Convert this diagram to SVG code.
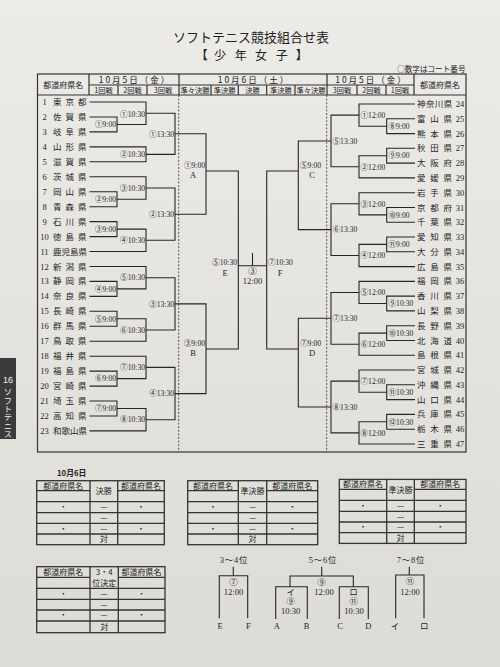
<svg xmlns="http://www.w3.org/2000/svg" width="500" height="667" viewBox="0 0 500 667">
<defs>
<linearGradient id="bg" x1="0" y1="0" x2="0" y2="1">
<stop offset="0" stop-color="#ecebe7"/>
<stop offset="1" stop-color="#dddbd6"/>
</linearGradient>
</defs>
<style>
.ln{fill:none;stroke:#262626;stroke-width:1.1}
.bx{fill:none;stroke:#333;stroke-width:1.2}
.tb{fill:none;stroke:#333;stroke-width:1.3}
.dash{fill:none;stroke:#444;stroke-width:0.9;stroke-dasharray:2 1.6}
.nm{font-family:"Noto Sans CJK JP",sans-serif;font-size:8.5px;fill:#1e1e1e}
.s3{letter-spacing:4px}
.r3{letter-spacing:4.7px}
.r4{letter-spacing:0.4px}
.num{font-family:"Liberation Serif","Noto Sans CJK JP",serif;font-size:8.5px;fill:#1e1e1e;text-anchor:middle}
.lb{font-family:"Liberation Serif","Noto Sans CJK JP",serif;font-size:7.6px;fill:#1e1e1e}
.lt{font-family:"Liberation Serif","Noto Sans CJK JP",serif;font-size:8.5px;fill:#1e1e1e;text-anchor:middle}
.e{text-anchor:end}
.m{text-anchor:middle}
.hd{font-family:"Noto Sans CJK JP",sans-serif;font-size:7.2px;fill:#222;text-anchor:middle}
.hn{font-family:"Noto Sans CJK JP",sans-serif;font-size:8px;fill:#222;text-anchor:middle}
.hdate{font-family:"Noto Sans CJK JP",sans-serif;font-size:8.5px;fill:#222;text-anchor:middle;letter-spacing:2px}
.tt{font-family:"Noto Sans CJK JP",sans-serif;font-size:8px;fill:#222;text-anchor:middle}
</style>
<rect x="0" y="0" width="500" height="667" fill="url(#bg)"/>

<!-- title -->
<g id="title">
<text x="251" y="42" font-family="Noto Sans CJK JP, sans-serif" font-size="13" fill="#222" text-anchor="middle">ソフトテニス競技組合せ表</text>
<text x="201.7 220 240.7 261 281.7 301.7" y="59.5" font-family="Noto Sans CJK JP, sans-serif" font-size="12" fill="#222" text-anchor="middle">【少年女子】</text>
<text x="465.5" y="71.5" font-family="Noto Sans CJK JP, sans-serif" font-size="7.6" fill="#222" text-anchor="end">○数字はコート番号</text>
</g>

<!-- side tab -->
<g id="side-tab">
<rect x="0" y="358" width="16" height="81" fill="#3b3b3b"/>
<text x="8" y="383" font-family="Liberation Sans, sans-serif" font-size="9" fill="#f2f2f2" text-anchor="middle">16</text>
<text x="8" y="388" font-family="Noto Sans CJK JP, sans-serif" font-size="8.3" fill="#f2f2f2" style="writing-mode:tb">ソフトテニス</text>
</g>

<!-- main table frame & header -->
<g id="frame">
<rect class="bx" x="37.5" y="74" width="428.5" height="378"/>
<path class="bx" d="M37.5 95 H466 M89 85 H414 M89 74 V95 M179 74 V95 M327 74 V95 M414 74 V95 M118 85 V95 M147 85 V95 M211 85 V95 M238.3 85 V95 M266.7 85 V95 M295 85 V95 M357 85 V95 M386 85 V95"/>
<path class="dash" d="M178.7 95 V452 M326.7 95 V452"/>
<text class="hn" x="63.3" y="87.5">都道府県名</text>
<text class="hn" x="440" y="87.5">都道府県名</text>
<text class="hdate" x="135" y="83">10月5日（金）</text>
<text class="hdate" x="254" y="83">10月6日（土）</text>
<text class="hdate" x="371.5" y="83">10月5日（金）</text>
<text class="hd" x="103.5" y="93">1回戦</text>
<text class="hd" x="132.5" y="93">2回戦</text>
<text class="hd" x="163" y="93">3回戦</text>
<text class="hd" x="195" y="93">準々決勝</text>
<text class="hd" x="224.6" y="93">準決勝</text>
<text class="hd" x="252.5" y="93">決勝</text>
<text class="hd" x="280.8" y="93">準決勝</text>
<text class="hd" x="311" y="93">準々決勝</text>
<text class="hd" x="342" y="93">3回戦</text>
<text class="hd" x="371.5" y="93">2回戦</text>
<text class="hd" x="400" y="93">1回戦</text>
</g>

<!-- connectors -->
<g id="connectors">
<path class="ln" d="M89.5 102 H146 V124.5 H117 M89.5 117 H117 V131.9 H89.5 M89.5 146.9 H146 V161.8 H89.5 M146 113.2 H175 V154.4 H146"/>
<path class="ln" d="M89.5 176.8 H146 V199.2 H117 M89.5 191.7 H117 V206.7 H89.5 M89.5 221.6 H117 V236.6 H89.5 M117 229.1 H146 V251.5 H89.5 M146 188 H175 V240.3 H146"/>
<path class="ln" d="M89.5 266.5 H146 V288.9 H117 M89.5 281.4 H117 V296.4 H89.5 M89.5 311.3 H117 V326.3 H89.5 M117 318.8 H146 V341.2 H89.5 M146 277.7 H175 V330 H146"/>
<path class="ln" d="M89.5 356.2 H146 V378.6 H117 M89.5 371.1 H117 V386.1 H89.5 M89.5 401 H117 V416 H89.5 M117 408.5 H146 V430.9 H89.5 M146 367.4 H175 V419.7 H146"/>
<path class="ln" d="M175 133.8 H206 V214.2 H175 M175 303.9 H206 V393.6 H175 M206 171 H238.3 V349 H206"/>
<path class="ln" d="M415 104 H359 V126.2 H386.7 M415 118.8 H386.7 V133.6 H415 M415 148.3 H386.7 V163.1 H415 M386.7 155.7 H359 V177.9 H415 M359 115.1 H331 V166.8 H359"/>
<path class="ln" d="M415 192.7 H359 V214.9 H386.7 M415 207.5 H386.7 V222.2 H415 M415 237 H386.7 V251.8 H415 M386.7 244.4 H359 V266.6 H415 M359 203.8 H331 V255.5 H359"/>
<path class="ln" d="M415 281.4 H359 V303.5 H386.7 M415 296.1 H386.7 V310.9 H415 M415 325.7 H386.7 V340.5 H415 M386.7 333.1 H359 V355.3 H415 M359 292.5 H331 V344.2 H359"/>
<path class="ln" d="M415 370 H359 V392.2 H386.7 M415 384.8 H386.7 V399.6 H415 M415 414.4 H386.7 V429.2 H415 M386.7 421.8 H359 V444 H415 M359 381.1 H331 V432.9 H359"/>
<path class="ln" d="M331 141 H298.3 V229.6 H331 M331 318.3 H298.3 V407 H331 M298.3 171 H266.7 V349 H298.3"/>
<path class="ln" d="M238.3 265.7 H266.7 M252.5 253 V265.7"/>
<!-- placement brackets -->
<path class="ln" d="M233.3 566.7 V575.7 M219.3 618.3 V575.7 H247.7 V618.3"/>
<path class="ln" d="M321.7 566.7 V576 M290 586.7 V576 H353.3 V586.7 M275.7 619 V586.7 H307.3 V619 M339.3 619 V586.7 H368.3 V619"/>
<path class="ln" d="M409.3 566.7 V575 M395.7 618.3 V575 H424 V618.3"/>
</g>

<!-- left teams -->
<g id="t1"><text class="num" x="44.5" y="105">1</text><text class="nm s3" x="53" y="105">東京都</text></g>
<g id="t2"><text class="num" x="44.5" y="120">2</text><text class="nm s3" x="53" y="120">佐賀県</text></g>
<g id="t3"><text class="num" x="44.5" y="134.9">3</text><text class="nm s3" x="53" y="134.9">岐阜県</text></g>
<g id="t4"><text class="num" x="44.5" y="149.9">4</text><text class="nm s3" x="53" y="149.9">山形県</text></g>
<g id="t5"><text class="num" x="44.5" y="164.8">5</text><text class="nm s3" x="53" y="164.8">滋賀県</text></g>
<g id="t6"><text class="num" x="44.5" y="179.8">6</text><text class="nm s3" x="53" y="179.8">茨城県</text></g>
<g id="t7"><text class="num" x="44.5" y="194.7">7</text><text class="nm s3" x="53" y="194.7">岡山県</text></g>
<g id="t8"><text class="num" x="44.5" y="209.7">8</text><text class="nm s3" x="53" y="209.7">青森県</text></g>
<g id="t9"><text class="num" x="44.5" y="224.6">9</text><text class="nm s3" x="53" y="224.6">石川県</text></g>
<g id="t10"><text class="num" x="44.5" y="239.6">10</text><text class="nm s3" x="53" y="239.6">徳島県</text></g>
<g id="t11"><text class="num" x="44.5" y="254.5">11</text><text class="nm" x="53" y="254.5">鹿児島県</text></g>
<g id="t12"><text class="num" x="44.5" y="269.5">12</text><text class="nm s3" x="53" y="269.5">新潟県</text></g>
<g id="t13"><text class="num" x="44.5" y="284.4">13</text><text class="nm s3" x="53" y="284.4">静岡県</text></g>
<g id="t14"><text class="num" x="44.5" y="299.4">14</text><text class="nm s3" x="53" y="299.4">奈良県</text></g>
<g id="t15"><text class="num" x="44.5" y="314.3">15</text><text class="nm s3" x="53" y="314.3">長崎県</text></g>
<g id="t16"><text class="num" x="44.5" y="329.3">16</text><text class="nm s3" x="53" y="329.3">群馬県</text></g>
<g id="t17"><text class="num" x="44.5" y="344.2">17</text><text class="nm s3" x="53" y="344.2">鳥取県</text></g>
<g id="t18"><text class="num" x="44.5" y="359.2">18</text><text class="nm s3" x="53" y="359.2">福井県</text></g>
<g id="t19"><text class="num" x="44.5" y="374.1">19</text><text class="nm s3" x="53" y="374.1">福島県</text></g>
<g id="t20"><text class="num" x="44.5" y="389.1">20</text><text class="nm s3" x="53" y="389.1">宮崎県</text></g>
<g id="t21"><text class="num" x="44.5" y="404">21</text><text class="nm s3" x="53" y="404">埼玉県</text></g>
<g id="t22"><text class="num" x="44.5" y="419">22</text><text class="nm s3" x="53" y="419">高知県</text></g>
<g id="t23"><text class="num" x="44.5" y="433.9">23</text><text class="nm" x="53" y="433.9">和歌山県</text></g>

<!-- right teams -->
<g id="t24"><text class="nm r4" x="417" y="107">神奈川県</text><text class="num" x="460" y="107">24</text></g>
<g id="t25"><text class="nm r3" x="417" y="121.8">富山県</text><text class="num" x="460" y="121.8">25</text></g>
<g id="t26"><text class="nm r3" x="417" y="136.6">熊本県</text><text class="num" x="460" y="136.6">26</text></g>
<g id="t27"><text class="nm r3" x="417" y="151.3">秋田県</text><text class="num" x="460" y="151.3">27</text></g>
<g id="t28"><text class="nm r3" x="417" y="166.1">大阪府</text><text class="num" x="460" y="166.1">28</text></g>
<g id="t29"><text class="nm r3" x="417" y="180.9">愛媛県</text><text class="num" x="460" y="180.9">29</text></g>
<g id="t30"><text class="nm r3" x="417" y="195.7">岩手県</text><text class="num" x="460" y="195.7">30</text></g>
<g id="t31"><text class="nm r3" x="417" y="210.5">京都府</text><text class="num" x="460" y="210.5">31</text></g>
<g id="t32"><text class="nm r3" x="417" y="225.2">千葉県</text><text class="num" x="460" y="225.2">32</text></g>
<g id="t33"><text class="nm r3" x="417" y="240">愛知県</text><text class="num" x="460" y="240">33</text></g>
<g id="t34"><text class="nm r3" x="417" y="254.8">大分県</text><text class="num" x="460" y="254.8">34</text></g>
<g id="t35"><text class="nm r3" x="417" y="269.6">広島県</text><text class="num" x="460" y="269.6">35</text></g>
<g id="t36"><text class="nm r3" x="417" y="284.4">福岡県</text><text class="num" x="460" y="284.4">36</text></g>
<g id="t37"><text class="nm r3" x="417" y="299.1">香川県</text><text class="num" x="460" y="299.1">37</text></g>
<g id="t38"><text class="nm r3" x="417" y="313.9">山梨県</text><text class="num" x="460" y="313.9">38</text></g>
<g id="t39"><text class="nm r3" x="417" y="328.7">長野県</text><text class="num" x="460" y="328.7">39</text></g>
<g id="t40"><text class="nm r3" x="417" y="343.5">北海道</text><text class="num" x="460" y="343.5">40</text></g>
<g id="t41"><text class="nm r3" x="417" y="358.3">島根県</text><text class="num" x="460" y="358.3">41</text></g>
<g id="t42"><text class="nm r3" x="417" y="373">宮城県</text><text class="num" x="460" y="373">42</text></g>
<g id="t43"><text class="nm r3" x="417" y="387.8">沖縄県</text><text class="num" x="460" y="387.8">43</text></g>
<g id="t44"><text class="nm r3" x="417" y="402.6">山口県</text><text class="num" x="460" y="402.6">44</text></g>
<g id="t45"><text class="nm r3" x="417" y="417.4">兵庫県</text><text class="num" x="460" y="417.4">45</text></g>
<g id="t46"><text class="nm r3" x="417" y="432.2">栃木県</text><text class="num" x="460" y="432.2">46</text></g>
<g id="t47"><text class="nm r3" x="417" y="447">三重県</text><text class="num" x="460" y="447">47</text></g>

<!-- left match labels -->
<g id="left-r1">
<text class="lb e" x="116" y="127.2">①9:00</text>
<text class="lb e" x="116" y="201.9">②9:00</text>
<text class="lb e" x="116" y="231.8">③9:00</text>
<text class="lb e" x="116" y="291.6">④9:00</text>
<text class="lb e" x="116" y="321.5">⑤9:00</text>
<text class="lb e" x="116" y="381.3">⑥9:00</text>
<text class="lb e" x="116" y="411.2">⑦9:00</text>
</g>
<g id="left-r2">
<text class="lb e" x="145" y="117">①10:30</text>
<text class="lb e" x="145" y="157.1">②10:30</text>
<text class="lb e" x="145" y="190.7">③10:30</text>
<text class="lb e" x="145" y="243">④10:30</text>
<text class="lb e" x="145" y="280.4">⑤10:30</text>
<text class="lb e" x="145" y="332.7">⑥10:30</text>
<text class="lb e" x="145" y="370.1">⑦10:30</text>
<text class="lb e" x="145" y="422.4">⑧10:30</text>
</g>
<g id="left-r3">
<text class="lb e" x="174" y="136.5">①13:30</text>
<text class="lb e" x="174" y="216.9">②13:30</text>
<text class="lb e" x="174" y="306.6">③13:30</text>
<text class="lb e" x="174" y="396.3">④13:30</text>
</g>

<!-- right match labels -->
<g id="right-r1">
<text class="lb" x="388.5" y="128.9">⑧9:00</text>
<text class="lb" x="388.5" y="158.4">⑨9:00</text>
<text class="lb" x="388.5" y="217.6">⑩9:00</text>
<text class="lb" x="388.5" y="247.1">⑪9:00</text>
<text class="lb" x="388.5" y="306.2">⑨10:30</text>
<text class="lb" x="388.5" y="335.8">⑩10:30</text>
<text class="lb" x="388.5" y="394.9">⑪10:30</text>
<text class="lb" x="388.5" y="424.5">⑫10:30</text>
</g>
<g id="right-r2">
<text class="lb" x="360.5" y="117.8">①12:00</text>
<text class="lb" x="360.5" y="169.5">②12:00</text>
<text class="lb" x="360.5" y="206.5">③12:00</text>
<text class="lb" x="360.5" y="258.2">④12:00</text>
<text class="lb" x="360.5" y="295.2">⑤12:00</text>
<text class="lb" x="360.5" y="346.9">⑥12:00</text>
<text class="lb" x="360.5" y="383.8">⑦12:00</text>
<text class="lb" x="360.5" y="435.6">⑧12:00</text>
</g>
<g id="right-r3">
<text class="lb" x="332.5" y="143.7">⑤13:30</text>
<text class="lb" x="332.5" y="232.3">⑥13:30</text>
<text class="lb" x="332.5" y="321">⑦13:30</text>
<text class="lb" x="332.5" y="409.7">⑧13:30</text>
</g>

<!-- QF / SF / Final -->
<g id="qf-A"><text class="lb e" x="205" y="168">①9:00</text><text class="lt" x="193" y="177.5">A</text></g>
<g id="qf-B"><text class="lb e" x="205" y="346">③9:00</text><text class="lt" x="193" y="356">B</text></g>
<g id="qf-C"><text class="lb" x="300" y="168">⑤9:00</text><text class="lt" x="312" y="177.5">C</text></g>
<g id="qf-D"><text class="lb" x="300" y="346">⑦9:00</text><text class="lt" x="312" y="356">D</text></g>
<g id="sf-E"><text class="lb e" x="237" y="265">⑤10:30</text><text class="lt" x="225" y="275.5">E</text></g>
<g id="sf-F"><text class="lb" x="268" y="265">⑦10:30</text><text class="lt" x="280" y="275.5">F</text></g>
<g id="final"><text class="lt" x="252.5" y="273.5">③</text><text class="lt" x="252.5" y="284">12:00</text></g>

<!-- bottom tables -->
<text x="57" y="476" font-family="Noto Sans CJK JP, sans-serif" font-size="7.8" font-weight="bold" fill="#222">10月6日</text>
<g id="tbl-final">
<rect class="tb" x="36.7" y="480.7" width="127.6" height="64"/>
<path class="tb" d="M90 480.7 V544.7 M117.7 480.7 V544.7 M36.7 490.7 H90 M117.7 490.7 H164.3 M36.7 501.7 H164.3 M36.7 512.7 H164.3 M36.7 523.3 H164.3 M36.7 534 H164.3"/>
<text class="tt" x="63.3" y="488.6">都道府県名</text><text class="tt" x="103.8" y="494.3">決勝</text><text class="tt" x="141" y="488.6">都道府県名</text>
<text class="tt" x="63.3" y="510">・</text><text class="tt" x="103.8" y="510">—</text><text class="tt" x="141" y="510">・</text>
<text class="tt" x="103.8" y="520.8">—</text>
<text class="tt" x="63.3" y="531.5">・</text><text class="tt" x="103.8" y="531.5">—</text><text class="tt" x="141" y="531.5">・</text>
<text class="tt" x="103.8" y="542.2">対</text>
</g>
<g id="tbl-semi1">
<rect class="tb" x="187.7" y="480.7" width="130" height="64"/>
<path class="tb" d="M238.3 480.7 V544.7 M266.7 480.7 V544.7 M187.7 490.7 H238.3 M266.7 490.7 H317.7 M187.7 501.7 H317.7 M187.7 512.7 H317.7 M187.7 523.3 H317.7 M187.7 534 H317.7"/>
<text class="tt" x="213" y="488.6">都道府県名</text><text class="tt" x="252.5" y="494.3">準決勝</text><text class="tt" x="292.2" y="488.6">都道府県名</text>
<text class="tt" x="213" y="510">・</text><text class="tt" x="252.5" y="510">—</text><text class="tt" x="292.2" y="510">・</text>
<text class="tt" x="252.5" y="520.8">—</text>
<text class="tt" x="213" y="531.5">・</text><text class="tt" x="252.5" y="531.5">—</text><text class="tt" x="292.2" y="531.5">・</text>
<text class="tt" x="252.5" y="542.2">対</text>
</g>
<g id="tbl-semi2">
<rect class="tb" x="339.3" y="479.4" width="126.7" height="64"/>
<path class="tb" d="M386.7 479.4 V543.4 M414.3 479.4 V543.4 M339.3 489.4 H386.7 M414.3 489.4 H466 M339.3 500.4 H466 M339.3 511.4 H466 M339.3 522 H466 M339.3 532.7 H466"/>
<text class="tt" x="363" y="487.3">都道府県名</text><text class="tt" x="400.5" y="493">準決勝</text><text class="tt" x="440.2" y="487.3">都道府県名</text>
<text class="tt" x="363" y="508.7">・</text><text class="tt" x="400.5" y="508.7">—</text><text class="tt" x="440.2" y="508.7">・</text>
<text class="tt" x="400.5" y="519.5">—</text>
<text class="tt" x="363" y="530.2">・</text><text class="tt" x="400.5" y="530.2">—</text><text class="tt" x="440.2" y="530.2">・</text>
<text class="tt" x="400.5" y="540.9">対</text>
</g>
<g id="tbl-34">
<rect class="tb" x="36.7" y="566.7" width="128.3" height="66"/>
<path class="tb" d="M90 566.7 V632.7 M118.3 566.7 V632.7 M36.7 577.3 H90 M118.3 577.3 H165 M36.7 588.3 H165 M36.7 599.3 H165 M36.7 610 H165 M36.7 621 H165"/>
<text class="tt" x="63.3" y="575">都道府県名</text><text class="tt" x="104.2" y="575.3">3・4</text><text class="tt" x="104.2" y="585.7">位決定</text><text class="tt" x="141.6" y="575">都道府県名</text>
<text class="tt" x="63.3" y="596.6">・</text><text class="tt" x="104.2" y="596.6">—</text><text class="tt" x="141.6" y="596.6">・</text>
<text class="tt" x="104.2" y="607.5">—</text>
<text class="tt" x="63.3" y="618.3">・</text><text class="tt" x="104.2" y="618.3">—</text><text class="tt" x="141.6" y="618.3">・</text>
<text class="tt" x="104.2" y="629.7">対</text>
</g>

<!-- placement matches -->
<g id="place-34">
<text class="lt" x="234" y="563" letter-spacing="0.8">3～4位</text>
<text class="lt" x="233.5" y="584.5">⑦</text><text class="lt" x="233.5" y="595">12:00</text>
<text class="lt" x="220" y="628.5">E</text><text class="lt" x="248.3" y="628.5">F</text>
</g>
<g id="place-56">
<text class="lt" x="323" y="563" letter-spacing="0.8">5～6位</text>
<text class="lt" x="321.7" y="584.5">⑨</text><text class="lt" x="324" y="594.5">12:00</text>
<text class="lt" x="290.7" y="594.5">イ</text><text class="lt" x="290.7" y="603.8">⑨</text><text class="lt" x="290.7" y="613.7">10:30</text>
<text class="lt" x="353.5" y="594.5">ロ</text><text class="lt" x="353.5" y="603.8">⑪</text><text class="lt" x="354" y="613.7">10:30</text>
<text class="lt" x="276.7" y="628.5">A</text><text class="lt" x="306.7" y="628.5">B</text>
<text class="lt" x="340" y="628.5">C</text><text class="lt" x="368.3" y="628.5">D</text>
</g>
<g id="place-78">
<text class="lt" x="411" y="562.5" letter-spacing="0.8">7～8位</text>
<text class="lt" x="410" y="584">⑪</text><text class="lt" x="410" y="594.5">12:00</text>
<text class="lt" x="395" y="628.5">イ</text><text class="lt" x="424.3" y="628.5">ロ</text>
</g>
</svg>
